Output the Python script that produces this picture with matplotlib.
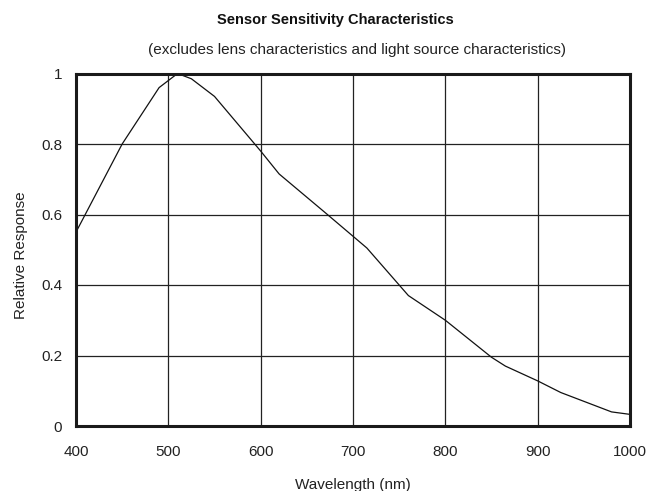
import matplotlib.pyplot as plt
import numpy as np

plt.rcParams['font.family'] = ['Liberation Sans', 'DejaVu Sans']

# wavelength (nm) and relative response
wavelength = [400, 450, 490, 510, 525, 550, 600, 620, 670, 715, 760, 800, 850, 865, 900, 925, 980, 1000]
response = [0.55, 0.80, 0.96, 1.00, 0.985, 0.935, 0.78, 0.715, 0.605, 0.505, 0.37, 0.30, 0.195, 0.17, 0.128, 0.095, 0.04, 0.033]

xticks = [400, 500, 600, 700, 800, 900, 1000]
yticks = [0, 0.2, 0.4, 0.6, 0.8, 1.0]
ytick_labels = ['0', '0.2', '0.4', '0.6', '0.8', '1']

fig = plt.figure(figsize=[6.49, 4.91], dpi=100)
# axes box in pixels: left 76, right 630, top 73.5, bottom 426
ax = fig.add_axes([76/649, 1-426/491, (630-76)/649, (426-73.5)/491])

ax.plot(wavelength, response, color='#111111', linewidth=0.9)

ax.set_xlim(400, 1000)
ax.set_ylim(0, 1)
ax.set_xticks(xticks)
ax.set_yticks(yticks)
ax.set_yticklabels(ytick_labels)
ax.tick_params(axis='both', length=0, labelsize=11, colors='#222222')
ax.tick_params(axis='x', pad=13.5)
ax.tick_params(axis='y', pad=10)
ax.grid(True, color='#222222', linewidth=0.9)
for s in ax.spines.values():
  s.set_linewidth(2.2)
  s.set_color('#1a1a1a')

ax.set_xlabel('Wavelength (nm)', fontsize=11, color='#222222')
ax.xaxis.set_label_coords(0.5, -0.1475)
ax.set_ylabel('Relative Response', fontsize=11, color='#222222')
ax.yaxis.set_label_coords(-0.087, 0.485)

fig.text(335.5/649, 1-20/491, 'Sensor Sensitivity Characteristics', ha='center', va='center',
         fontsize=10.5, fontweight='bold', color='#111111')
fig.text(356.5/649, 1-50/491, '(excludes lens characteristics and light source characteristics)',
         ha='center', va='center', fontsize=11, color='#222222')

fig.savefig('out.png', dpi=100)
